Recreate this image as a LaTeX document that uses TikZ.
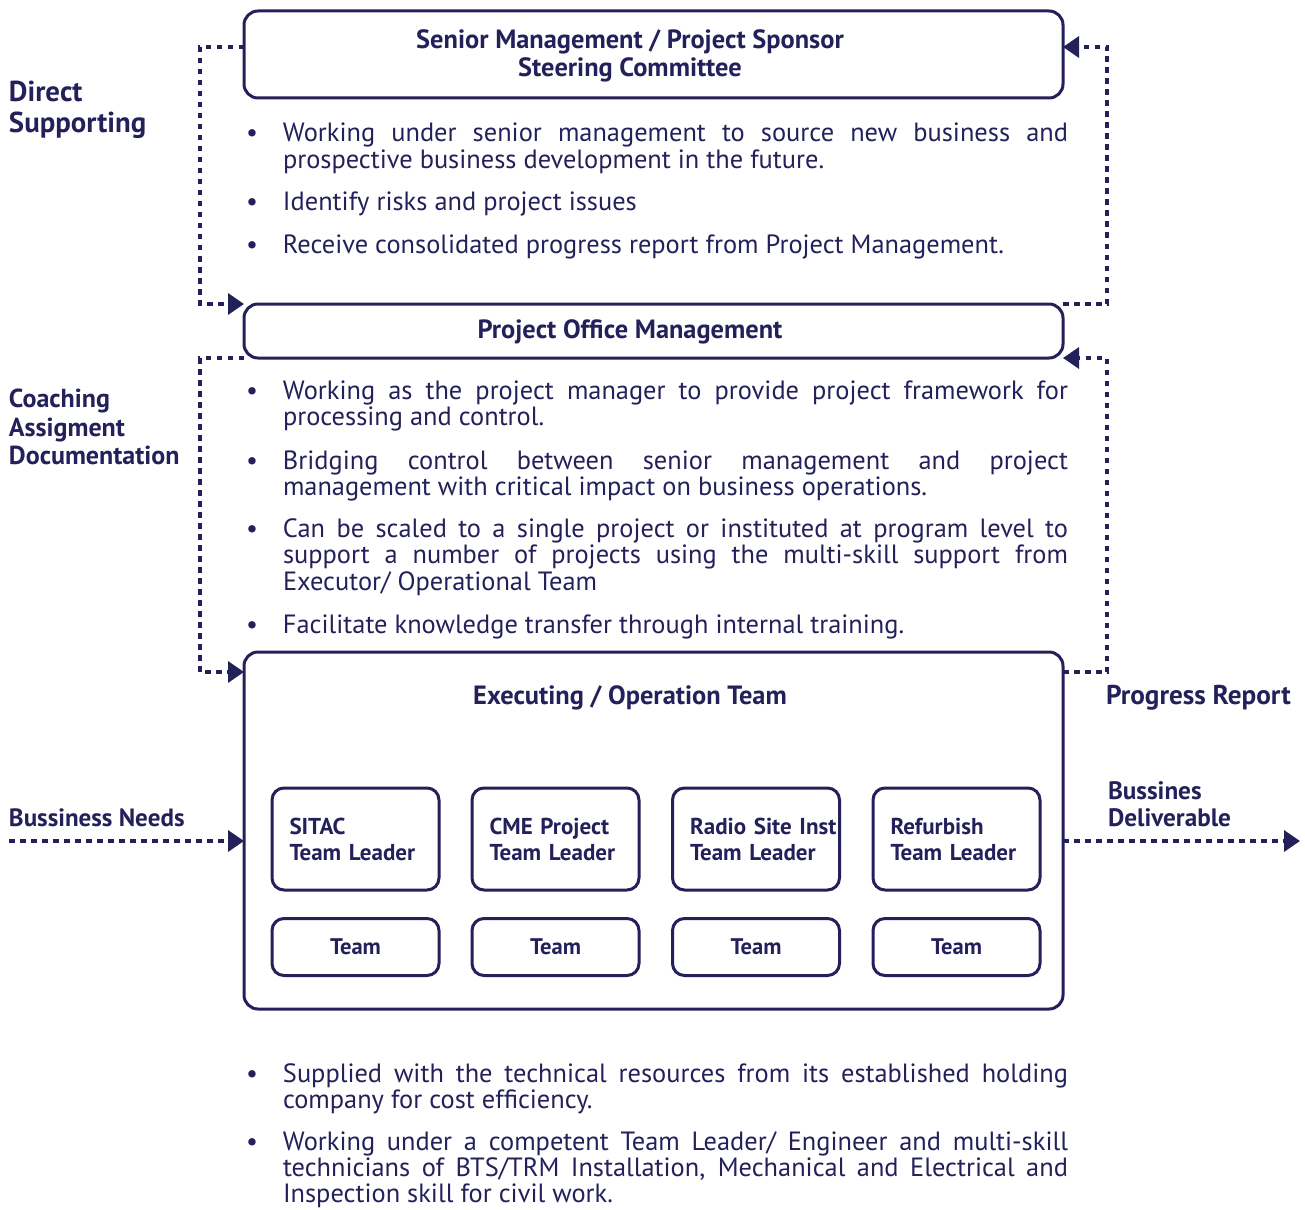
\documentclass[tikz,border=0pt]{standalone}
\usepackage{fontspec}
\setmainfont{PT Sans}
\usetikzlibrary{arrows.meta}
\definecolor{navy}{RGB}{35,32,90}
\newcommand{\bul}{\llap{\makebox[18.5pt][l]{\textbullet}}}

\begin{document}
\begin{tikzpicture}[
        x = 0.5pt, y = -0.5pt,
        line width = 1.5pt,
        every node/.style = {text = navy, inner sep = 0pt, outer sep = 0pt},
        panel/.style = {draw = navy, rounded corners = 7pt, minimum width = 409.5pt},
        leader/.style = {draw = navy, rounded corners = 6pt, minimum width = 83.5pt, minimum height = 51pt, text width = 66pt, align = left, font = \bfseries\fontsize{11.5pt}{13pt}\selectfont},
        crew/.style = {draw = navy, rounded corners = 6pt, minimum width = 83.5pt, minimum height = 28.5pt, font = \bfseries\fontsize{11.3pt}{13pt}\selectfont},
        title/.style = {align = center, font = \bfseries\fontsize{13.2pt}{14pt}\selectfont},
        side/.style = {align = left, anchor = west, font = \bfseries\fontsize{13pt}{14.2pt}\selectfont},
        item/.style = {text width = 392.5pt, align = justify, anchor = base west, font = \fontsize{13.2pt}{13.3pt}\selectfont},
        flow/.style = {draw = navy, line width = 1.7pt, dash pattern = on 2.75pt off 2.75pt, -{Triangle[length = 8pt, width = 10.5pt]}}
    ]
    \useasboundingbox (0,0) rectangle (1305,1209);

    % boxes
    \node[panel, minimum height = 43.5pt] (senior) at (653.5,54.5) {};
    \node[title] (seniortxt) at (630,56) {Senior Management / Project Sponsor\\Steering Committee};
    \node[panel, minimum height = 27pt] (office) at (653.5,331) {};
    \node[title] (officetxt) at (630,332) {Project Office Management};
    \node[panel, minimum height = 178.5pt] (exec) at (653.5,830.5) {};
    \node[title] (exectxt) at (630,698) {Executing / Operation Team};

    % team leaders and teams
    \node[leader] (sitac) at (355.5,839) {SITAC\\Team Leader};
    \node[leader] (cme) at (555.5,839) {CME Project\\Team Leader};
    \node[leader] (radio) at (756,839) {\mbox{Radio Site Inst}\\Team Leader};
    \node[leader] (refurb) at (956.5,839) {Refurbish\\Team Leader};
    \node[crew] (sitacteam) at (355.5,947) {Team};
    \node[crew] (cmeteam) at (555.5,947) {Team};
    \node[crew] (radioteam) at (756,947) {Team};
    \node[crew] (refurbteam) at (956.5,947) {Team};

    % side labels
    \node[side, font = \bfseries\fontsize{14.4pt}{15.5pt}\selectfont] (direct) at (9,110) {Direct\\Supporting};
    \node[side] (coaching) at (9,427) {Coaching\\Assigment\\Documentation};
    \node[side, font = \bfseries\fontsize{12.5pt}{14pt}\selectfont] (needs) at (9,818) {Bussiness Needs};
    \node[side, font = \bfseries\fontsize{13.6pt}{14pt}\selectfont] (progress) at (1106,698) {Progress Report};
    \node[side, font = \bfseries\fontsize{12.6pt}{13.5pt}\selectfont] (deliver) at (1108,804) {Bussines\\Deliverable};

    % bullet texts
    \node[item] (s1) at (283,142) {\bul Working under senior management to source new business and\linebreak prospective business development in the future.};
    \node[item] (s2) at (283,211) {\bul Identify risks and project issues};
    \node[item] (s3) at (283,254) {\bul Receive consolidated progress report from Project Management.};
    \node[item] (o1) at (283,399) {\bul Working as the project manager to provide project framework for\linebreak processing and control.};
    \node[item] (o2) at (283,469) {\bul Bridging control between senior management and project\linebreak management with critical impact on business operations.};
    \node[item] (o3) at (283,537) {\bul Can be scaled to a single project or instituted at program level to\linebreak support a number of projects using the multi-skill support from\linebreak Executor/ Operational Team};
    \node[item] (o4) at (283,633) {\bul Facilitate knowledge transfer through internal training.};
    \node[item] (e1) at (283,1082) {\bul Supplied with the technical resources from its established holding\linebreak company for cost efficiency.};
    \node[item, font = \fontsize{13.2pt}{13pt}\selectfont] (e2) at (283,1150) {\bul Working under a competent Team Leader/ Engineer and multi-skill\linebreak technicians of BTS/TRM Installation, Mechanical and Electrical and\linebreak Inspection skill for civil work.};

    % connectors
    \draw[flow] ([yshift = 3.75pt]senior.west) -- ++(-22pt,0) |- (office.north west);
    \draw[flow] (office.north east) -- ++(22pt,0) |- ([yshift = 3.75pt]senior.east);
    \draw[flow] (office.south west) -- ++(-22pt,0) |- ([yshift = -10pt]exec.north west);
    \draw[flow] ([yshift = -10pt]exec.north east) -- ++(22pt,0) |- (office.south east);
    \coordinate (needsin) at (9,841);
    \coordinate (deliverout) at (1300,841);
    \draw[flow] (needsin) -- (needsin -| exec.west);
    \draw[flow] (needsin -| exec.east) -- (deliverout);
\end{tikzpicture}
\end{document}
